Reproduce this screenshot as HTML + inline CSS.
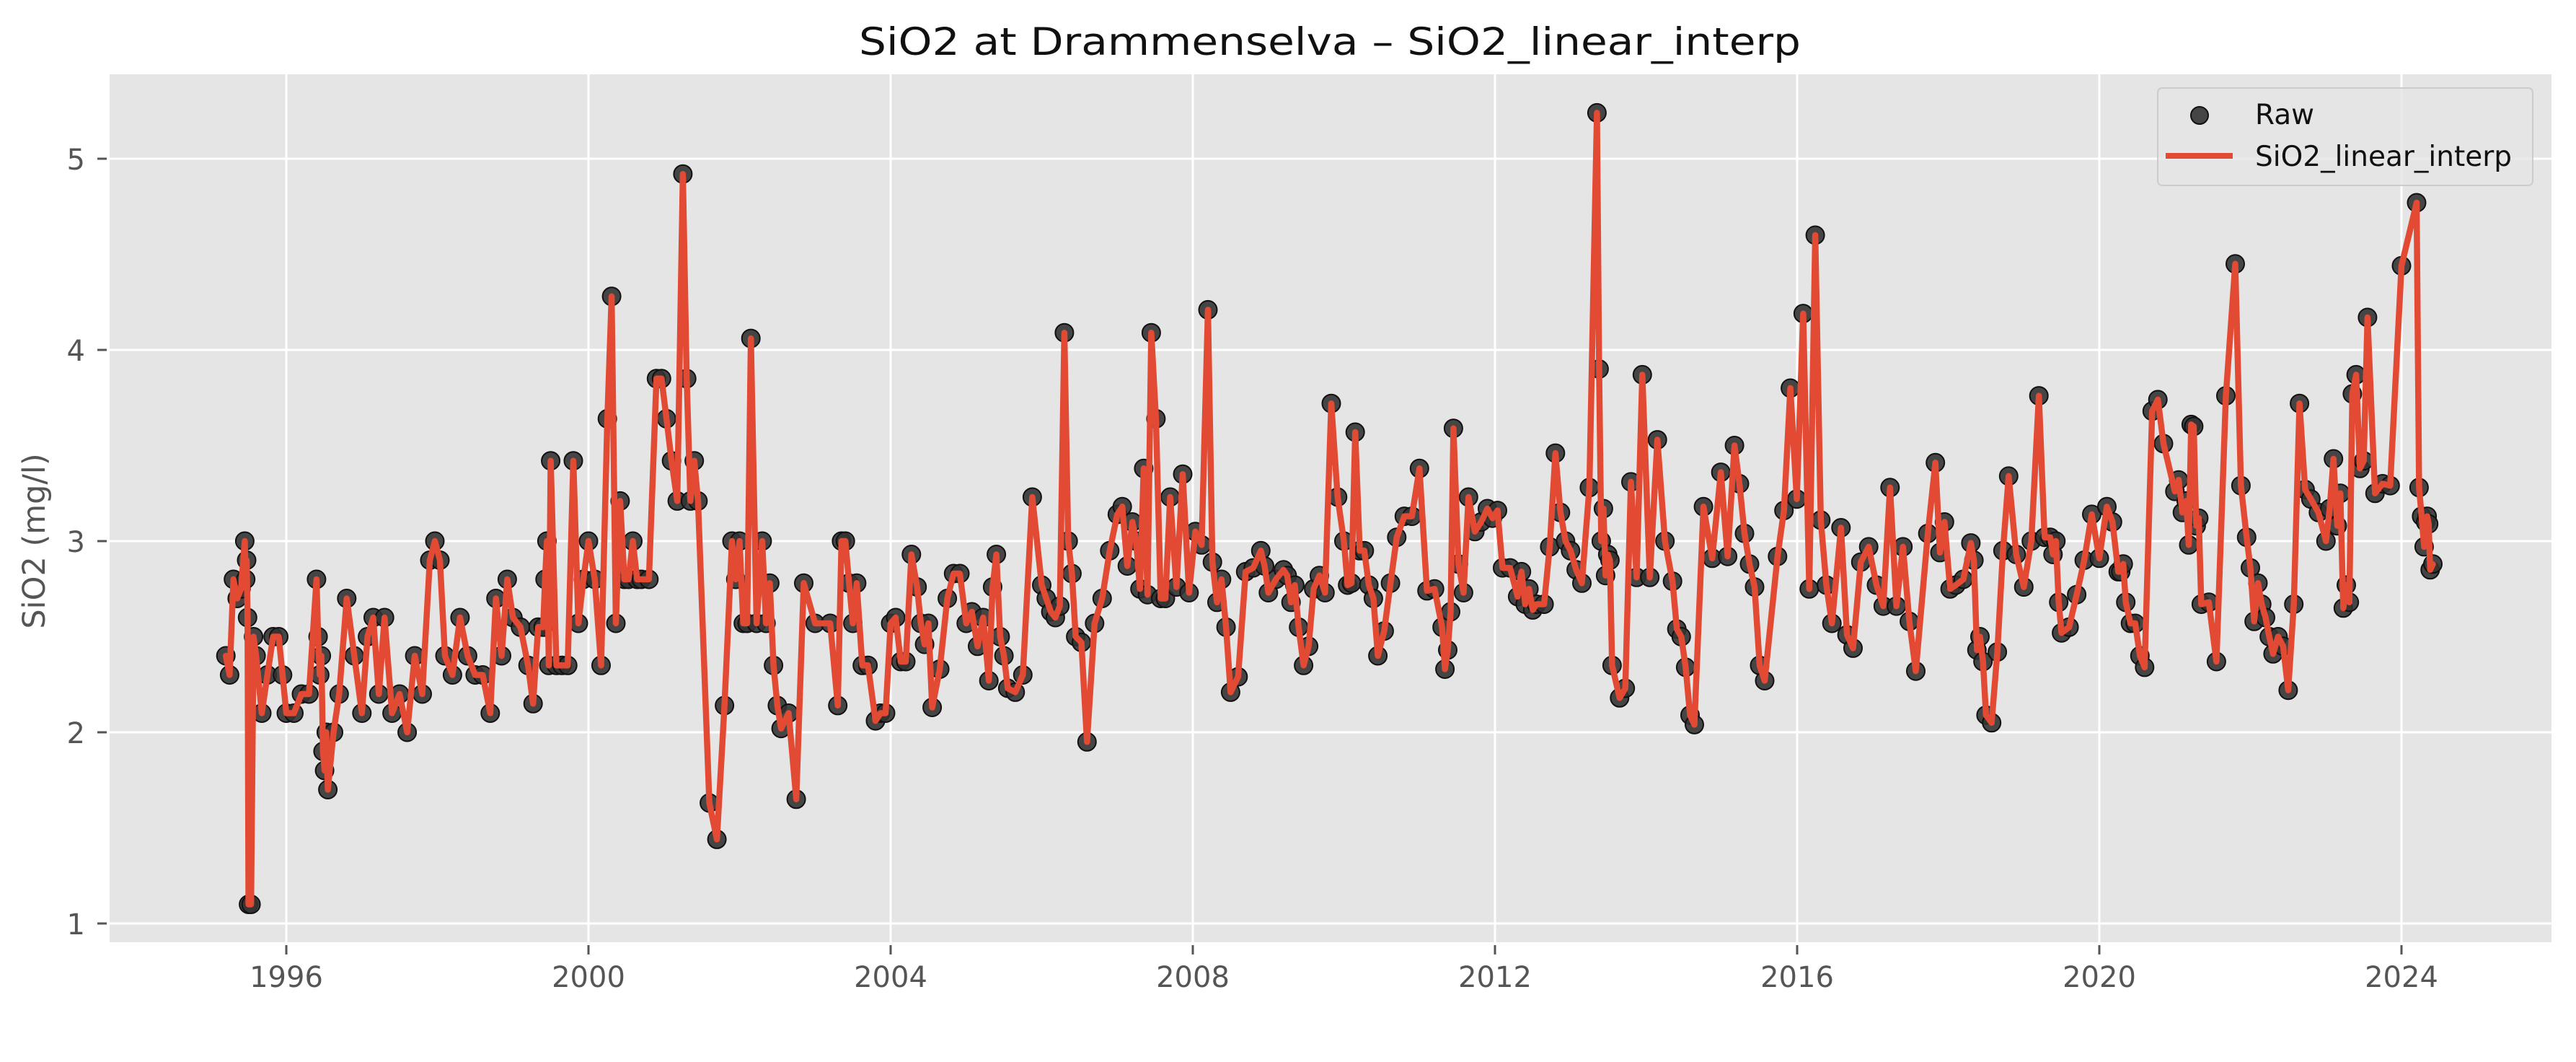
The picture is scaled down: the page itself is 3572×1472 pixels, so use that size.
<!DOCTYPE html>
<html>
<head>
<meta charset="utf-8">
<style>
  html,body{margin:0;padding:0;background:#fff;}
  svg{display:block;}
  text{font-family:"DejaVu Sans","Liberation Sans",sans-serif;}
</style>
</head>
<body>
<svg id="chart" width="3572" height="1472" viewBox="0 0 3572 1472" xmlns="http://www.w3.org/2000/svg">
  <rect x="0" y="0" width="3572" height="1472" fill="#ffffff"/>
  <rect x="152" y="103" width="3386" height="1203" fill="#E5E5E5"/>
  <g id="grid"></g>
  <g id="ticks"></g>
  <g id="marks"></g>
  <text x="1844" y="76" font-size="53" fill="#111" text-anchor="middle" textLength="1306" lengthAdjust="spacingAndGlyphs">SiO2 at Drammenselva – SiO2_linear_interp</text>
  <text transform="translate(62,750) rotate(-90)" font-size="43" fill="#555" text-anchor="middle">SiO2 (mg/l)</text>
  <g>
    <rect x="2992" y="122" width="520" height="135" rx="6" fill="#E5E5E5" fill-opacity="0.8" stroke="#cccccc" stroke-width="2"/>
    <circle cx="3050" cy="160" r="12" fill="#333" fill-opacity="0.9" stroke="#111" stroke-width="2"/>
    <text x="3127" y="172" font-size="39" fill="#111">Raw</text>
    <line x1="3003" y1="216" x2="3096" y2="216" stroke="#E24A33" stroke-width="8"/>
    <text x="3127" y="230" font-size="39" fill="#111">SiO2_linear_interp</text>
  </g>
</svg>
<script>
const xTicks = [1996, 2000, 2004, 2008, 2012, 2016, 2020, 2024];
const yTicks = [1, 2, 3, 4, 5];
const groupStarts = [1995.2,1995.3,1995.45,1995.5,1995.6,1995.75,1995.9,1996.0,1996.2,1996.4,1996.55,1996.7,1996.8,1997.0,1997.3,1997.6,1997.9,1998.1,1998.3,1998.7,1999.0,1999.2,1999.4,1999.5,1999.8,2000.0,2000.25,2000.7,2000.9,2001.1,2001.25,2001.45,2001.6,2001.7,2001.9,2002.05,2002.15,2002.3,2002.55,2002.65,2002.75,2002.85,2003.0,2003.2,2003.3,2003.4,2003.55,2003.7,2003.8,2004.0,2004.2,2004.35,2004.55,2004.75,2005.0,2005.3,2005.55,2005.75,2006.0,2006.3,2006.45,2006.6,2006.8,2007.0,2007.2,2007.35,2007.45,2007.7,2007.95,2008.2,2008.5,2008.7,2008.9,2009.0,2009.2,2009.4,2009.6,2009.75,2010.0,2010.15,2010.45,2010.7,2010.9,2011.1,2011.3,2011.45,2011.65,2011.9,2012.1,2012.3,2012.55,2012.65,2012.8,2013.0,2013.15,2013.35,2013.55,2013.65,2013.8,2013.95,2014.15,2014.35,2014.64,2014.76,2014.99,2015.17,2015.57,2015.74,2015.91,2016.08,2016.24,2016.46,2016.58,2016.74,2017.05,2017.23,2017.57,2017.73,2017.83,2017.95,2018.1,2018.3,2018.5,2018.65,2018.8,2019.0,2019.2,2019.35,2019.5,2019.7,2019.9,2020.1,2020.25,2020.35,2020.6,2020.7,2020.85,2021.0,2021.15,2021.35,2021.55,2021.8,2021.95,2022.05,2022.2,2022.3,2022.5,2022.65,2022.8,2023.0,2023.15,2023.35,2023.55,2023.85,2024.0,2024.2,2024.3,2024.38];
const lastDate = 2024.45;
const groupValues = [[2.4,2.3],[2.8,2.7,2.75],[3.0,2.8,2.9,2.6],[1.1,1.1,2.5],[2.4,2.1],[2.3,2.5],[2.5,2.3],[2.1,2.1],[2.2,2.2],[2.8,2.5,2.3,2.4,1.9,1.8,2.0],[1.7,2.0],[2.2],[2.7,2.4],[2.1,2.5,2.6,2.2],[2.6,2.1,2.2],[2.0,2.4,2.2],[2.9,3.0,2.9],[2.4,2.3],[2.6,2.4,2.3,2.3],[2.1,2.7,2.4,2.8],[2.6,2.55],[2.35,2.15,2.55],[2.55,2.8,3.0,2.35],[3.42,2.35,2.35,2.35],[3.42,2.57,2.8],[3.0,2.8,2.35],[3.64,4.28,2.57,3.21,2.8,2.8,3.0,2.8],[2.8,2.8],[3.85,3.85,3.64],[3.42,3.21],[4.92,3.85,3.21,3.42],[3.21],[1.63],[1.44,2.14],[3.0,2.8,3.0],[2.57,2.57],[4.06,2.57],[3.0,2.57,2.78,2.35,2.14],[2.02],[2.1],[1.65],[2.78],[2.57],[2.57],[2.14,3.0],[3.0,2.78,2.57],[2.78,2.35],[2.35],[2.06,2.1,2.1],[2.57,2.6,2.37],[2.37,2.93],[2.76,2.57,2.46,2.57],[2.13,2.33],[2.7,2.83,2.83],[2.57,2.63,2.45,2.6],[2.27,2.76,2.93,2.5,2.4],[2.23,2.21],[2.3,3.23],[2.77,2.7,2.63,2.6,2.66],[4.09,3.0,2.83],[2.5,2.47],[1.95,2.57],[2.7,2.95],[3.14,3.18,2.87],[3.1,3.0,2.75],[3.38,2.72],[4.09,3.64,2.7,2.7],[3.23,2.76,3.35],[2.73,3.05,2.98],[4.21,2.89,2.68,2.8,2.55],[2.21,2.29],[2.84,2.86],[2.95,2.87],[2.73,2.8],[2.85,2.82,2.68,2.77],[2.55,2.35,2.45],[2.75,2.82],[2.73,3.72,3.23],[3.0,2.77,2.78],[3.57,2.95,2.95,2.77,2.7],[2.4,2.53,2.78],[3.02,3.13],[3.13,3.38],[2.74,2.75],[2.55,2.33,2.43,2.63],[3.59,2.88,2.73],[3.23,3.05,3.1],[3.17,3.12,3.16],[2.86,2.86],[2.71,2.84,2.67,2.75,2.64],[2.67],[2.67,2.97],[3.46,3.15,3.0],[2.95,2.85],[2.78,3.28],[5.24,3.9,3.0,3.17,2.82,2.93,2.9],[2.35],[2.18,2.23],[3.31,2.81],[3.87,2.81],[3.53,3.0],[2.79,2.54,2.5,2.34,2.09],[2.04],[3.18,2.91],[3.36,2.92],[3.5,3.3,3.04,2.88,2.76,2.35],[2.27],[2.92,3.16],[3.8,3.22],[4.19,2.75],[4.6,3.11,2.77],[2.57],[3.07,2.51],[2.44,2.89,2.97],[2.77,2.66],[3.28,2.66,2.97,2.58],[2.32],[3.04],[3.41,2.94],[3.1,2.75],[2.77,2.8],[2.99,2.9,2.43,2.5,2.37],[2.09,2.05],[2.42,2.95],[3.34,2.93],[2.76,3.0],[3.76,3.02],[3.02,2.93,3.0,2.68],[2.52,2.55],[2.72,2.9],[3.14,2.91],[3.18,3.1],[2.84,2.84,2.88],[2.68,2.57,2.57,2.4],[2.34],[3.68,3.74],[3.51],[3.26,3.32,3.15],[3.21,2.98,3.61,3.6,3.08,3.12],[2.67,2.68],[2.37,3.76],[4.45,3.29],[3.02,2.86],[2.58,2.78,2.67],[2.6,2.5],[2.41,2.5,2.45],[2.22,2.67],[3.72,3.27],[3.22,3.15],[3.0,3.17,3.43],[3.08,3.25,2.65,2.77,2.68],[3.77,3.87,3.38,3.42],[4.17,3.25,3.3],[3.29],[4.44],[4.77,3.28,3.13],[2.97,3.1,3.13,3.09],[2.85,2.88]];

const NS = 'http://www.w3.org/2000/svg';
const plot = {left:152, right:3538, top:103, bottom:1306};
function xScale(t){ return 816 + (t - 2000) * 104.75; }
function yScale(v){ return 1280 - (v - 1) * 265; }

const dates = [], values = [];
groupStarts.forEach((s, i) => {
  const e = i + 1 < groupStarts.length ? groupStarts[i + 1] : lastDate;
  const vals = groupValues[i];
  vals.forEach((v, j) => {
    dates.push(s + (e - s) * j / vals.length);
    values.push(v);
  });
});

const grid = document.getElementById('grid');
const ticks = document.getElementById('ticks');
const marks = document.getElementById('marks');

xTicks.forEach(t => {
  const x = xScale(t);
  const gl = document.createElementNS(NS, 'line');
  gl.setAttribute('x1', x); gl.setAttribute('x2', x);
  gl.setAttribute('y1', plot.top); gl.setAttribute('y2', plot.bottom);
  gl.setAttribute('stroke', '#fff'); gl.setAttribute('stroke-width', '3');
  
  
  grid.appendChild(gl);
  const tk = document.createElementNS(NS, 'line');
  tk.setAttribute('x1', x); tk.setAttribute('x2', x);
  tk.setAttribute('y1', plot.bottom + 4); tk.setAttribute('y2', plot.bottom + 17);
  tk.setAttribute('stroke', '#555'); tk.setAttribute('stroke-width', '3');
  
  
  ticks.appendChild(tk);
  const lb = document.createElementNS(NS, 'text');
  lb.setAttribute('x', x); lb.setAttribute('y', 1368);
  lb.setAttribute('font-size', '40'); lb.setAttribute('fill', '#555');
  lb.setAttribute('text-anchor', 'middle');
  lb.textContent = String(t);
  
  
  ticks.appendChild(lb);
});

yTicks.forEach(v => {
  const y = yScale(v);
  const gl = document.createElementNS(NS, 'line');
  gl.setAttribute('x1', plot.left); gl.setAttribute('x2', plot.right);
  gl.setAttribute('y1', y); gl.setAttribute('y2', y);
  gl.setAttribute('stroke', '#fff'); gl.setAttribute('stroke-width', '3');
  
  
  grid.appendChild(gl);
  const tk = document.createElementNS(NS, 'line');
  tk.setAttribute('x1', plot.left - 17); tk.setAttribute('x2', plot.left - 4);
  tk.setAttribute('y1', y); tk.setAttribute('y2', y);
  tk.setAttribute('stroke', '#555'); tk.setAttribute('stroke-width', '3');
  
  
  ticks.appendChild(tk);
  const lb = document.createElementNS(NS, 'text');
  lb.setAttribute('x', 118); lb.setAttribute('y', y + 15);
  lb.setAttribute('font-size', '40'); lb.setAttribute('fill', '#555');
  lb.setAttribute('text-anchor', 'end');
  lb.textContent = String(v);
  
  
  ticks.appendChild(lb);
});

const pts = document.createElementNS(NS, 'g');


marks.appendChild(pts);
dates.forEach((t, i) => {
  const c = document.createElementNS(NS, 'circle');
  c.setAttribute('cx', xScale(t).toFixed(1));
  c.setAttribute('cy', yScale(values[i]).toFixed(1));
  c.setAttribute('r', '12.5');
  c.setAttribute('fill', '#333'); c.setAttribute('fill-opacity', '0.9');
  c.setAttribute('stroke', '#111'); c.setAttribute('stroke-width', '2');
  
  
  pts.appendChild(c);
});

const line = document.createElementNS(NS, 'polyline');
line.setAttribute('points', dates.map((t, i) => xScale(t).toFixed(1) + ',' + yScale(values[i]).toFixed(1)).join(' '));
line.setAttribute('fill', 'none');
line.setAttribute('stroke', '#E24A33');
line.setAttribute('stroke-width', '8.5');
line.setAttribute('stroke-linejoin', 'round');
line.setAttribute('stroke-linecap', 'round');


marks.appendChild(line);
</script>
</body>
</html>
